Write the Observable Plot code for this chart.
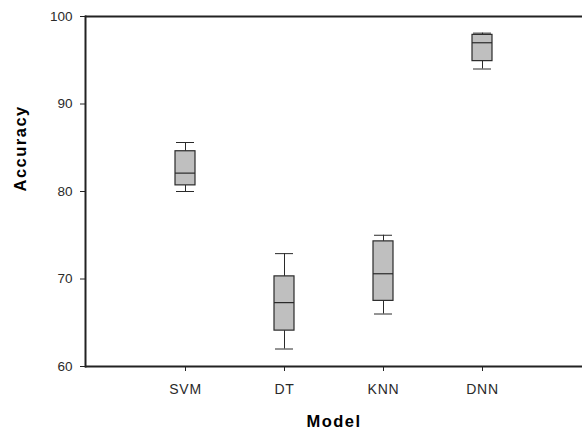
<!DOCTYPE html>
<html>
<head>
<meta charset="utf-8">
<script src="https://cdn.jsdelivr.net/npm/d3@7"></script>
<script src="https://cdn.jsdelivr.net/npm/@observablehq/plot@0.6"></script>
<style>
  html, body { margin: 0; padding: 0; background: #fff; }
  #chart svg { display: block; }
</style>
</head>
<body>
<div id="chart"></div>
<script>
const models  = ["SVM", "DT", "KNN", "DNN"];
const mins    = [80.0, 62.0, 66.0, 94.0];
const q1s     = [80.7, 64.1, 67.5, 94.9];
const medians = [82.1, 67.3, 70.6, 97.0];
const q3s     = [84.6, 70.3, 74.3, 97.9];
const maxs    = [85.6, 72.9, 75.0, 98.1];
const yTicks  = [60, 70, 80, 90, 100];

const data = models.map((m, i) => ({
  model: m, min: mins[i], q1: q1s[i], median: medians[i], q3: q3s[i], max: maxs[i]
}));

const boxStroke = "#2a2a2a";
const chart = Plot.plot({
  width: 582,
  height: 432,
  marginTop: 16,
  marginLeft: 85,
  marginRight: 0,
  marginBottom: 66,
  style: { fontFamily: "Liberation Sans, Arial, sans-serif", fontSize: "13px", color: "#333", background: "#fff" },
  x: { type: "band", domain: models, paddingInner: 0.8, paddingOuter: 0.9 },
  y: { domain: [60, 100] },
  marks: [
    Plot.frame({ stroke: "#ddd" }),
    Plot.ruleY([60, 100], { stroke: "#222", strokeWidth: 2 }),
    Plot.frame({ anchor: "left", stroke: "#222", strokeWidth: 2 }),
    Plot.axisX({ tickSize: 5, tickPadding: 13, label: null, fill: "#2a2a2a", fontSize: 14, stroke: "#222" }),
    Plot.axisY({ ticks: yTicks, tickSize: 5, tickPadding: 8, label: null, fill: "#2a2a2a", fontSize: 13.5, stroke: "#222" }),
    Plot.ruleX(data, { x: "model", y1: "q3", y2: "max", stroke: boxStroke }),
    Plot.ruleX(data, { x: "model", y1: "min", y2: "q1", stroke: boxStroke }),
    Plot.barY(data, { x: "model", y1: "q1", y2: "q3", fill: "#bfbfbf", stroke: boxStroke, strokeWidth: 1.2 }),
    Plot.tickY(data, { x: "model", y: "median", stroke: boxStroke, strokeWidth: 1.2 }),
    Plot.tickY(data, { x: "model", y: "max", stroke: boxStroke, insetLeft: 1, insetRight: 1 }),
    Plot.tickY(data, { x: "model", y: "min", stroke: boxStroke, insetLeft: 1, insetRight: 1 }),
    Plot.text(["Accuracy"], { frameAnchor: "left", dx: -65, rotate: -90, fontWeight: "bold", fontSize: 16.5, fill: "#000", lineAnchor: "middle" }),
    Plot.text(["Model"], { frameAnchor: "bottom", dy: 55, fontWeight: "bold", fontSize: 16.5, fill: "#000", lineAnchor: "middle" })
  ]
});

d3.select(chart).selectAll("text").filter(function () {
  const t = this.textContent;
  return t === "Accuracy" || t === "Model";
}).attr("letter-spacing", "1.5px");
d3.select(chart).selectAll("text").filter(function () {
  return models.includes(this.textContent);
}).attr("letter-spacing", "0.8px");

document.getElementById("chart").appendChild(chart);
</script>
</body>
</html>
